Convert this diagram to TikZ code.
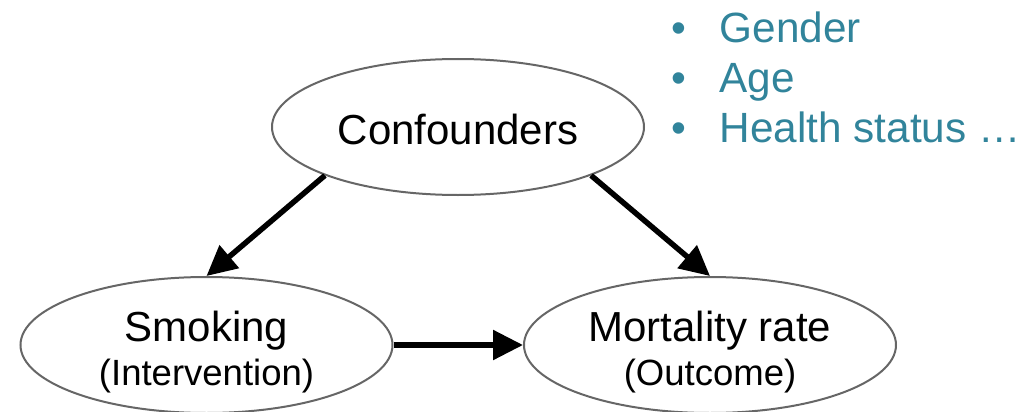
\documentclass[tikz,border=0pt]{standalone}
\usepackage{fontspec}
\setmainfont{Liberation Sans}
\usetikzlibrary{shapes.geometric,arrows.meta}
\definecolor{edgegray}{HTML}{666666}
\definecolor{listteal}{HTML}{31849B}
\begin{document}
\begin{tikzpicture}[x=1pt,y=-1pt,
  varnode/.style={ellipse,draw=edgegray,line width=2pt,fill=white,
    minimum width=372pt,minimum height=136pt,inner sep=0pt},
  bigtext/.style={anchor=base,inner sep=0pt,font=\fontsize{42}{50}\selectfont},
  subtext/.style={anchor=base,inner sep=0pt,font=\fontsize{36.5}{44}\selectfont},
  listtext/.style={anchor=base west,inner sep=0pt,text=listteal,font=\fontsize{42.3}{50}\selectfont},
  listdot/.style={anchor=base,inner sep=0pt,text=listteal,font=\fontsize{42.3}{50}\selectfont},
  causal/.style={line width=5.5pt,-{Triangle[length=30pt,width=29pt]}}]
\useasboundingbox (0,0) rectangle (1020,412);

% variables
\node[varnode] (conf) at (458,127) {};
\node[varnode] (smk) at (206.5,345) {};
\node[varnode] (mort) at (710,345) {};

\node[bigtext] (conf-t) at (458,144) {Confounders};
\node[bigtext] (smk-t) at (206.5,341.5) {Smoking};
\node[subtext] (smk-s) at (206.5,385.5) {(Intervention)};
\node[bigtext] (mort-t) at (710,341.5) {Mortality rate};
\node[subtext] (mort-s) at (710,385.5) {(Outcome)};

% causal arrows
\draw[causal] (conf.200) -- (smk.north);
\draw[causal] (conf.340) -- (mort.north);
\draw[causal] (smk.east) -- (mort.west);

% list of confounders
\node[listdot] (b1) at (679,42.5) {•};
\node[listdot] (b2) at (679,92.5) {•};
\node[listdot] (b3) at (679,142.5) {•};
\node[listtext] (l1) at (719.5,42.5) {Gender};
\node[listtext] (l2) at (719.5,92.5) {Age};
\node[listtext] (l3) at (719.5,142.5) {Health status …};
\end{tikzpicture}
\end{document}
